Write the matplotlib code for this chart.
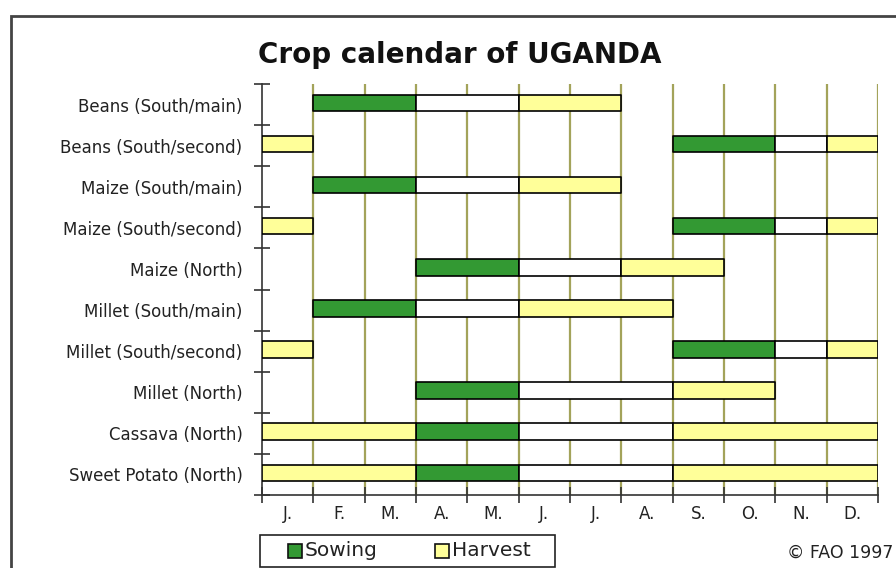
import matplotlib
matplotlib.use('Agg')
import matplotlib.pyplot as plt
import matplotlib.patches as patches

# crop calendar data (months: 0 = start of January)
crops = ['Beans (South/main)', 'Beans (South/second)', 'Maize (South/main)',
         'Maize (South/second)', 'Maize (North)', 'Millet (South/main)',
         'Millet (South/second)', 'Millet (North)', 'Cassava (North)',
         'Sweet Potato (North)']
months = ['J.', 'F.', 'M.', 'A.', 'M.', 'J.', 'J.', 'A.', 'S.', 'O.', 'N.', 'D.']

# (start month, length in months)
sowing = [[(1, 2)], [(8, 2)], [(1, 2)], [(8, 2)], [(3, 2)],
          [(1, 2)], [(8, 2)], [(3, 2)], [(3, 2)], [(3, 2)]]
growing = [[(3, 2)], [(10, 1)], [(3, 2)], [(10, 1)], [(5, 2)],
           [(3, 2)], [(10, 1)], [(5, 3)], [(5, 3)], [(5, 3)]]
harvest = [[(5, 2)], [(0, 1), (11, 1)], [(5, 2)], [(0, 1), (11, 1)], [(7, 2)],
           [(5, 3)], [(0, 1), (11, 1)], [(8, 2)], [(0, 3), (8, 4)], [(0, 3), (8, 4)]]

legend_labels = ['Sowing', 'Harvest']

green = '#339933'
yellow = '#ffff99'
olive = '#a3a35a'
font = 'DejaVu Sans'

W, H = 896, 568
fig = plt.figure(figsize=(W / 100, H / 100), dpi=100)
ax = fig.add_axes([262 / W, (H - 495) / H, (878 - 262) / W, (495 - 84) / H])

# month gridlines
for m in range(1, 13):
    ax.axvline(m, color=olive, linewidth=1.6, zorder=1)

bar_h = 0.4
for i in range(len(crops)):
    y = i + 0.5 - bar_h / 2 - 0.04
    for segs, col in [(sowing[i], green), (growing[i], 'white'), (harvest[i], yellow)]:
        ax.broken_barh(segs, (y, bar_h), facecolors=col, edgecolors='black',
                       linewidth=1.2, zorder=3)

ax.set_xlim(0, 12)
ax.set_ylim(len(crops), 0)

for s in ['top', 'right']:
    ax.spines[s].set_visible(False)
for s in ['left', 'bottom']:
    ax.spines[s].set_color('#333333')
    ax.spines[s].set_linewidth(1.2)

# ticks at boundaries, labels at centres
ax.set_xticks(range(13))
ax.set_xticklabels([])
ax.set_xticks([m + 0.5 for m in range(12)], minor=True)
ax.set_xticklabels(months, minor=True, fontsize=12, family=font, color='#222222')
ax.set_yticks(range(len(crops) + 1))
ax.set_yticklabels([])
ax.set_yticks([i + 0.5 for i in range(len(crops))], minor=True)
ax.set_yticklabels(crops, minor=True, fontsize=12, family=font, color='#222222')
ax.tick_params(which='major', direction='inout', length=11, width=1.2, color='#333333')
ax.tick_params(which='minor', length=0, pad=14)
ax.tick_params(axis='x', which='minor', pad=7)

fig.text(460 / W, (H - 55) / H, 'Crop calendar of UGANDA', ha='center', va='center',
         fontsize=20, fontweight='bold', family=font, color='#111111')
fig.text(893 / W, (H - 553) / H, '\u00a9 FAO 1997', ha='right', va='center',
         fontsize=12.5, family=font, color='#222222')

# legend box drawn by hand, in pixel positions of the figure
def px(x, y):
    return x / W, (H - y) / H

fig.patches.append(patches.Rectangle(px(260, 567), 295 / W, 32 / H,
                                     transform=fig.transFigure, fill=False,
                                     edgecolor='#222222', linewidth=1.2))
for x0, col, label in zip([288, 435], [green, yellow], legend_labels):
    fig.patches.append(patches.Rectangle(px(x0, 558), 14 / W, 14 / H,
                                         transform=fig.transFigure, facecolor=col,
                                         edgecolor='#111111', linewidth=1.2))
    fig.text(*px(x0 + 17, 551), label, ha='left', va='center',
             fontsize=14.5, family=font, color='#222222')

# outer frame of the picture
fig.patches.append(patches.Rectangle((11 / W, -0.1), 1.2, (H - 16) / H + 0.1,
                                     transform=fig.transFigure, fill=False,
                                     edgecolor='#444444', linewidth=2))

fig.savefig('out.png', dpi=100)
